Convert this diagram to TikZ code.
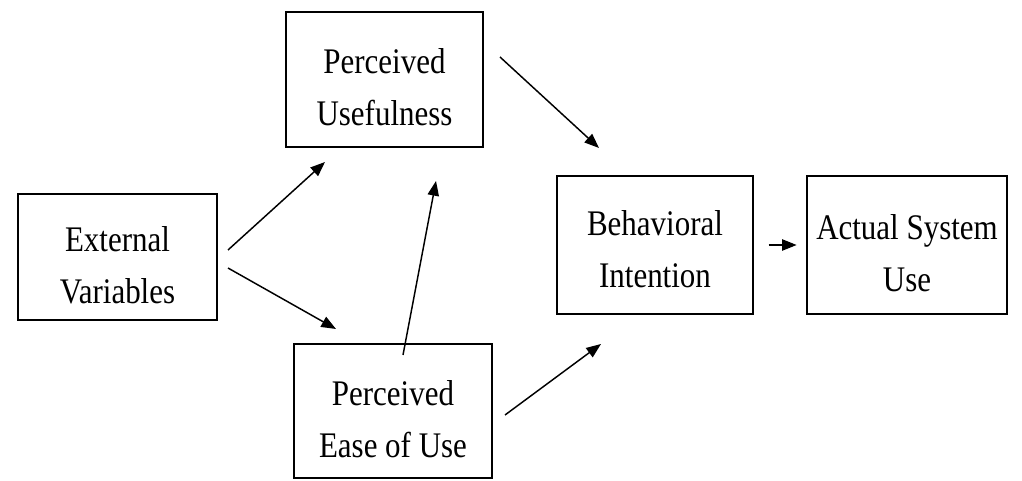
\documentclass[tikz,border=0pt]{standalone}
\usepackage{fontspec}
\newfontfamily\tfont[FakeStretch=0.86]{Liberation Serif}
\usetikzlibrary{arrows.meta}
\newcommand\dn{\rule{0pt}{31pt}}
\begin{document}
\begin{tikzpicture}[x=0.75pt,y=-0.75pt,
  box/.style={draw,line width=1.5pt,rectangle,align=center,inner sep=0pt,
    font=\tfont\fontsize{27}{39}\selectfont},
  arr/.style={line width=1.1pt,-{Triangle[length=11pt,width=8.5pt]}}]
\useasboundingbox (0,0) rectangle (1022,481);
\node[box,minimum width=149.25pt,minimum height=94.5pt] (ev) at (117.5,257) {\dn External\\Variables};
\node[box,minimum width=147.75pt,minimum height=101.25pt] (pu) at (384.5,79.5) {\dn Perceived\\Usefulness};
\node[box,minimum width=148.5pt,minimum height=100.5pt] (peou) at (393,411) {\dn Perceived\\Ease of Use};
\node[box,minimum width=147pt,minimum height=103.5pt] (bi) at (655,245) {\rule{0pt}{25pt}Behavioral\\Intention};
\node[box,minimum width=150pt,minimum height=103.5pt] (asu) at (907,245) {\dn Actual System\\Use};
\coordinate (a1s) at (228,250); \coordinate (a1e) at (325,162);
\coordinate (a2s) at (228,268); \coordinate (a2e) at (336,329);
\coordinate (a3s) at (403,355); \coordinate (a3e) at (436,181);
\coordinate (a4s) at (500,57);  \coordinate (a4e) at (599,148);
\coordinate (a5s) at (505,415); \coordinate (a5e) at (601,344);
\draw[arr] (a1s) -- (a1e);
\draw[arr] (a2s) -- (a2e);
\draw[arr] (a3s) -- (a3e);
\draw[arr] (a4s) -- (a4e);
\draw[arr] (a5s) -- (a5e);
\draw[arr,shorten <=11pt,shorten >=7pt] (bi.east) -- (asu.west);
\end{tikzpicture}
\end{document}
